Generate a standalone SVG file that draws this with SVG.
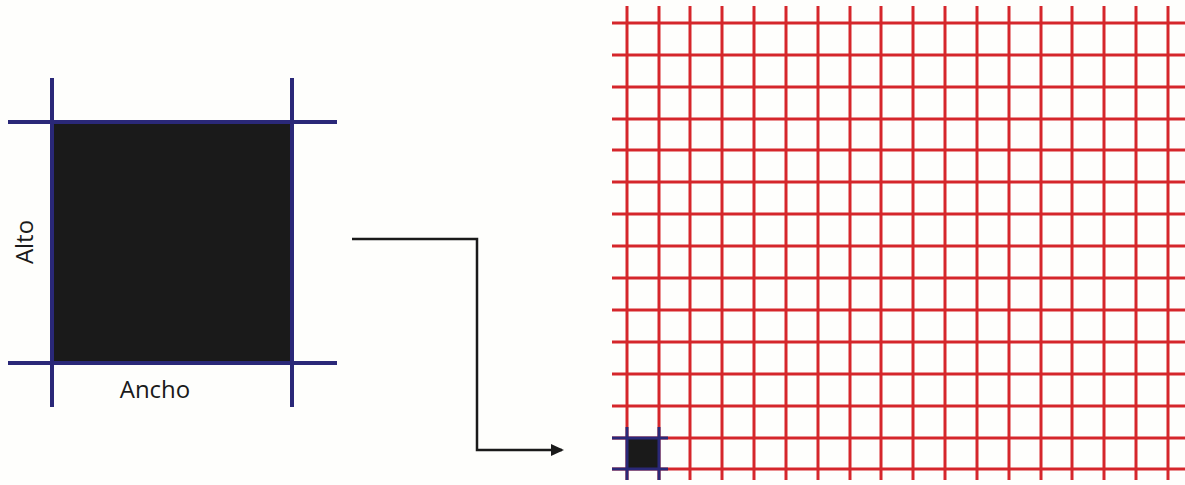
<svg xmlns="http://www.w3.org/2000/svg" width="1185" height="485" viewBox="0 0 1185 485">
<defs>
<style>
.blue{stroke:#2a2878;stroke-width:4;fill:none}
.blue2{stroke:#2a2878;stroke-width:3;fill:none}
.red{stroke:#d5262b;stroke-width:3;fill:none}
.lbl{font-family:"Open Sans","Noto Sans",sans-serif;font-size:24px;fill:#1a1a1a}
.conn{stroke:#1a1a1a;stroke-width:2.5;fill:none}
</style>
<marker id="arr" markerWidth="13" markerHeight="12" refX="11" refY="6" orient="auto" markerUnits="userSpaceOnUse">
<path d="M0,0 L13,6 L0,12 Z" fill="#1a1a1a"/>
</marker>
</defs>
<rect width="1185" height="485" fill="#fefefc"/>
<g id="pixel">
<rect x="52" y="122" width="240" height="241" fill="#1a1a1a"/>
<line class="blue" x1="52" y1="78" x2="52" y2="407"/>
<line class="blue" x1="292" y1="78" x2="292" y2="407"/>
<line class="blue" x1="8" y1="122" x2="337" y2="122"/>
<line class="blue" x1="8" y1="363" x2="337" y2="363"/>
<text class="lbl" x="155" y="398" text-anchor="middle">Ancho</text>
<text class="lbl" x="0" y="0" text-anchor="middle" transform="translate(33,242) rotate(-90)">Alto</text>
</g>
<g id="grid">
<g class="red">
<path d="M627,6V480M659,6V480M690,6V480M722,6V480M754,6V480M786,6V480M818,6V480M850,6V480M881,6V480M913,6V480M945,6V480M977,6V480M1009,6V480M1041,6V480M1072,6V480M1104,6V480M1136,6V480M1168,6V480"/>
<path d="M612,23H1185M612,55H1185M612,87H1185M612,119H1185M612,150H1185M612,182H1185M612,214H1185M612,246H1185M612,278H1185M612,310H1185M612,342H1185M612,374H1185M612,406H1185M612,438H1185M612,469H1185"/>
</g>
<rect x="627" y="438" width="32" height="31" fill="#1a1a1a"/>
<g class="blue2">
<path d="M627,427V480M659,427V480M612,438H668M612,469H668"/>
</g>
</g>
<g id="connectors">
<path class="conn" d="M352,239H477V450H562" marker-end="url(#arr)"/>
</g>
</svg>
